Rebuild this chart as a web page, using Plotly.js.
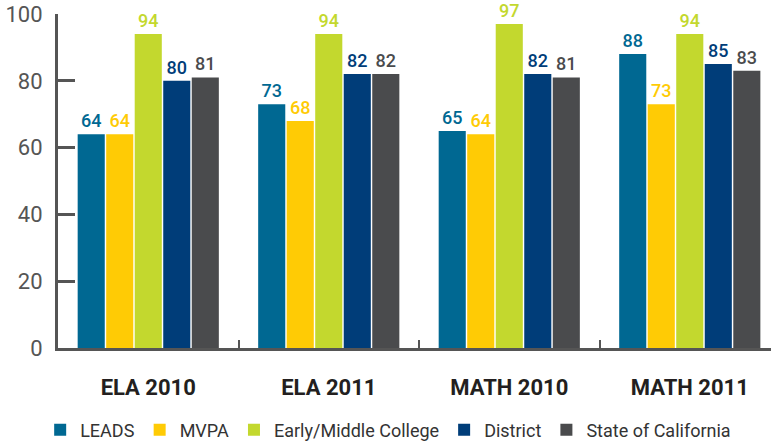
<!DOCTYPE html>
<html>
<head>
<meta charset="utf-8">
<script src="https://cdn.plot.ly/plotly-3.0.1.min.js"></script>
<style>html,body{margin:0;padding:0;background:#fff;}#chart{width:771px;height:443px;}</style>
</head>
<body>
<div id="chart"></div>
<script>
var categories = ["ELA 2010", "ELA 2011", "MATH 2010", "MATH 2011"];
var seriesNames = ["LEADS", "MVPA", "Early/Middle College", "District", "State of California"];
var leads = [64, 73, 65, 88];
var mvpa = [64, 68, 64, 73];
var earlyMiddle = [94, 94, 97, 94];
var district = [80, 82, 82, 85];
var stateCA = [81, 82, 81, 83];
var yTicks = [0, 20, 40, 60, 80, 100];
var colors = ["#006892", "#ffcb05", "#c3d82e", "#003d79", "#4a4b4d"];

var allValues = [leads, mvpa, earlyMiddle, district, stateCA];
var font = "Roboto, 'DejaVu Sans', sans-serif";

var traces = allValues.map(function (vals, i) {
  return {
    type: "bar",
    name: seriesNames[i],
    x: categories,
    y: vals,
    marker: {color: colors[i]},
    text: vals.map(String),
    textposition: "outside",
    textfont: {color: colors[i], size: 18, family: font, weight: 500},
    cliponaxis: false,
    hoverinfo: "none"
  };
});

var layout = {
  width: 771,
  height: 443,
  margin: {l: 58, r: 0, t: 14, b: 95, autoexpand: false},
  paper_bgcolor: "#fff",
  plot_bgcolor: "#fff",
  barmode: "group",
  bargap: 0.21,
  bargroupgap: 0.05,
  font: {family: font, color: "#555"},
  xaxis: {
    range: [-0.5, 3.45],
    showline: true,
    linecolor: "#555",
    linewidth: 3,
    ticks: "inside",
    tickson: "boundaries",
    ticklen: 8,
    tickwidth: 2,
    tickcolor: "#555",
    tickfont: {size: 22, color: "#231f20", family: "Roboto, sans-serif", weight: "bold"},
    ticklabelstandoff: 18,
    showgrid: false,
    zeroline: false,
    fixedrange: true,
    automargin: false
  },
  yaxis: {
    range: [0, 100],
    tickvals: yTicks,
    ticktext: yTicks.map(String),
    showline: true,
    linecolor: "#555",
    linewidth: 3,
    ticks: "inside",
    ticklen: 17,
    tickwidth: 3,
    tickcolor: "#555",
    tickfont: {size: 22, color: "#555"},
    ticklabelstandoff: 8,
    showgrid: false,
    zeroline: false,
    fixedrange: true,
    automargin: false
  },
  showlegend: true,
  legend: {
    orientation: "h",
    x: -0.025,
    xanchor: "left",
    y: -0.19,
    yanchor: "top",
    font: {size: 18, color: "#333"},
    itemclick: false,
    itemdoubleclick: false
  }
};

Plotly.newPlot("chart", traces, layout, {displayModeBar: false, staticPlot: true});
</script>
</body>
</html>
